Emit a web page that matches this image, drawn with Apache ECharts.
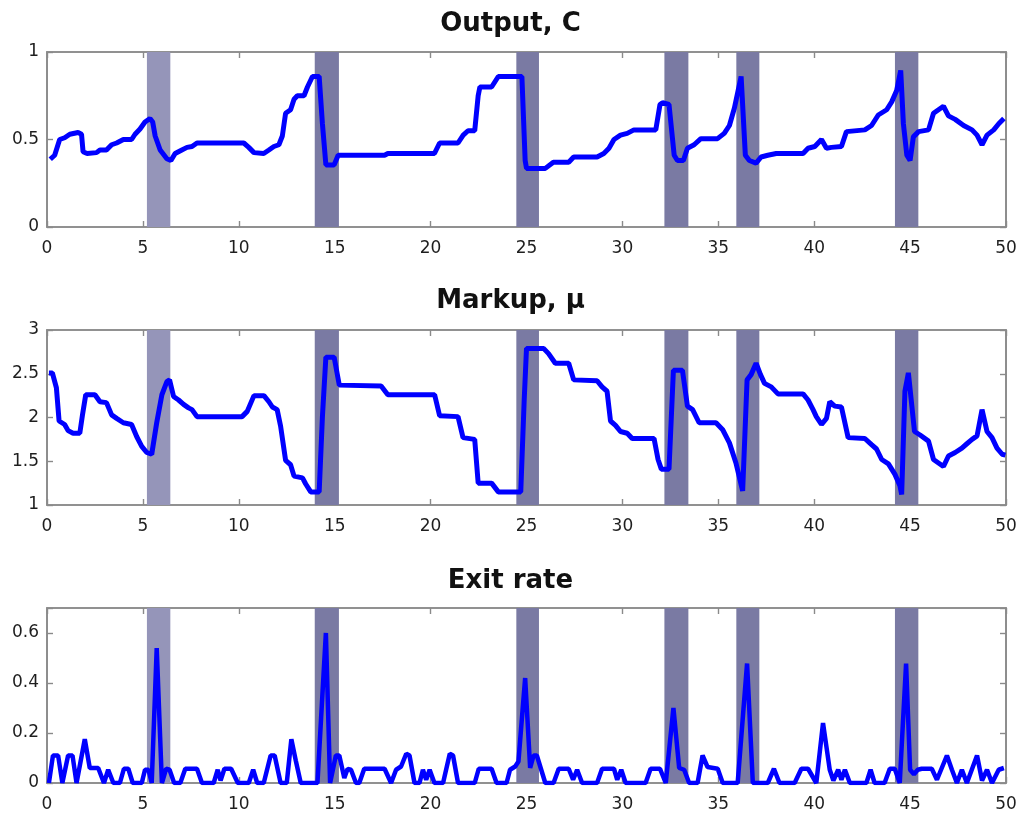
<!DOCTYPE html>
<html>
<head>
<meta charset="utf-8">
<script src="https://cdn.jsdelivr.net/npm/echarts@6/dist/echarts.min.js"></script>
<style>html,body{margin:0;padding:0;background:#fff;}#c{width:1021px;height:817px;}</style>
</head>
<body>
<div id="c"></div>
<script>
// ---- data ----
const titles = ['Output, C', 'Markup, \u03bc', 'Exit rate'];
const xTicks = [0, 5, 10, 15, 20, 25, 30, 35, 40, 45, 50];
const bands = [[5.21, 6.43], [13.96, 15.22], [24.47, 25.65], [32.19, 33.44], [35.94, 37.14], [44.21, 45.43]];

const output = [[0.17,0.387],[0.4,0.41],[0.66,0.50],[0.92,0.51],[1.19,0.53],[1.62,0.54],[1.8,0.53],[1.88,0.43],[2.09,0.42],[2.58,0.425],[2.76,0.44],[3.1,0.44],[3.37,0.47],[3.63,0.48],[3.98,0.50],[4.41,0.50],[4.59,0.53],[4.85,0.56],[5.11,0.60],[5.37,0.62],[5.51,0.60],[5.64,0.52],[5.9,0.44],[6.25,0.39],[6.46,0.38],[6.68,0.42],[7.03,0.44],[7.3,0.455],[7.56,0.46],[7.82,0.48],[10.26,0.48],[10.52,0.455],[10.79,0.425],[11.3,0.42],[11.57,0.44],[11.83,0.46],[12.09,0.47],[12.27,0.52],[12.44,0.65],[12.7,0.67],[12.88,0.73],[13.05,0.75],[13.4,0.75],[13.58,0.80],[13.84,0.86],[14.19,0.86],[14.36,0.59],[14.54,0.355],[14.97,0.355],[15.18,0.41],[17.6,0.41],[17.77,0.42],[20.2,0.42],[20.47,0.48],[21.43,0.48],[21.7,0.525],[21.95,0.55],[22.3,0.55],[22.48,0.75],[22.57,0.80],[23.18,0.80],[23.53,0.86],[24.76,0.86],[24.93,0.38],[25.0,0.335],[25.98,0.335],[26.4,0.37],[27.2,0.37],[27.46,0.40],[28.68,0.40],[29.03,0.42],[29.3,0.45],[29.56,0.50],[29.9,0.525],[30.25,0.535],[30.6,0.555],[31.74,0.555],[31.96,0.70],[32.09,0.71],[32.43,0.70],[32.7,0.41],[32.87,0.38],[33.18,0.38],[33.39,0.45],[33.74,0.47],[34.09,0.505],[34.96,0.505],[35.31,0.535],[35.58,0.58],[35.84,0.68],[36.19,0.86],[36.41,0.41],[36.62,0.38],[36.97,0.365],[37.23,0.40],[37.58,0.41],[38.02,0.42],[39.42,0.42],[39.68,0.45],[40.03,0.46],[40.38,0.50],[40.64,0.45],[40.9,0.455],[41.42,0.46],[41.68,0.545],[42.64,0.555],[42.99,0.58],[43.34,0.64],[43.78,0.67],[44.04,0.715],[44.3,0.78],[44.51,0.895],[44.65,0.59],[44.83,0.41],[45.0,0.38],[45.17,0.515],[45.44,0.545],[45.96,0.555],[46.22,0.65],[46.48,0.67],[46.74,0.69],[47.0,0.635],[47.35,0.615],[47.79,0.58],[48.23,0.555],[48.49,0.525],[48.75,0.47],[49.01,0.525],[49.36,0.555],[49.62,0.59],[49.89,0.62]];

const markup = [[0.1,2.51],[0.28,2.51],[0.49,2.34],[0.63,1.96],[0.92,1.92],[1.1,1.85],[1.36,1.82],[1.71,1.82],[1.85,2.03],[2.02,2.26],[2.5,2.26],[2.76,2.18],[3.1,2.17],[3.37,2.03],[3.63,1.99],[3.98,1.94],[4.41,1.92],[4.68,1.78],[4.94,1.67],[5.2,1.60],[5.46,1.58],[5.72,1.94],[5.99,2.26],[6.25,2.41],[6.39,2.43],[6.6,2.24],[6.86,2.20],[7.12,2.15],[7.38,2.11],[7.56,2.09],[7.82,2.01],[10.17,2.01],[10.44,2.07],[10.79,2.25],[11.31,2.25],[11.57,2.18],[11.75,2.12],[12.0,2.09],[12.18,1.90],[12.44,1.51],[12.7,1.46],[12.88,1.33],[13.32,1.31],[13.49,1.24],[13.75,1.15],[14.19,1.15],[14.36,2.01],[14.54,2.69],[14.97,2.69],[15.24,2.37],[17.42,2.36],[17.77,2.26],[20.21,2.26],[20.47,2.02],[21.43,2.01],[21.69,1.77],[22.3,1.75],[22.48,1.25],[23.18,1.25],[23.53,1.15],[24.7,1.15],[24.88,2.2],[25.0,2.79],[25.89,2.79],[26.15,2.73],[26.5,2.62],[27.2,2.62],[27.46,2.43],[28.68,2.42],[28.94,2.35],[29.2,2.30],[29.38,1.96],[29.64,1.91],[29.9,1.84],[30.25,1.82],[30.51,1.76],[31.65,1.76],[31.86,1.52],[32.03,1.41],[32.43,1.41],[32.66,2.54],[33.13,2.54],[33.39,2.13],[33.66,2.09],[34.0,1.94],[34.88,1.94],[35.23,1.86],[35.58,1.71],[35.92,1.48],[36.27,1.16],[36.5,2.43],[36.71,2.49],[36.97,2.62],[37.2,2.49],[37.41,2.39],[37.76,2.35],[38.11,2.27],[39.42,2.27],[39.68,2.20],[39.94,2.09],[40.11,2.01],[40.38,1.92],[40.64,1.99],[40.81,2.18],[41.07,2.13],[41.42,2.12],[41.77,1.77],[42.64,1.76],[42.99,1.69],[43.25,1.64],[43.52,1.52],[43.87,1.47],[44.21,1.35],[44.47,1.22],[44.56,1.12],[44.73,2.30],[44.91,2.51],[45.23,1.84],[45.52,1.80],[45.96,1.73],[46.22,1.52],[46.48,1.48],[46.74,1.44],[47.0,1.56],[47.35,1.60],[47.7,1.65],[47.96,1.70],[48.23,1.75],[48.49,1.79],[48.75,2.09],[49.01,1.84],[49.27,1.77],[49.53,1.65],[49.8,1.58],[49.97,1.57]];

const exitRate = [[0.1,0],[0.31,0.11],[0.58,0.11],[0.8,0],[1.1,0.11],[1.33,0.11],[1.54,0],[1.97,0.175],[2.23,0.06],[2.67,0.06],[2.76,0.053],[2.97,0],[3.19,0.053],[3.46,0],[3.8,0],[4.01,0.057],[4.24,0.057],[4.47,0],[4.94,0],[5.11,0.053],[5.29,0.053],[5.46,0],[5.72,0.54],[5.99,0],[6.21,0.057],[6.39,0.053],[6.63,0],[6.95,0],[7.21,0.057],[7.82,0.057],[8.08,0],[8.69,0],[8.9,0.053],[9.05,0.01],[9.25,0.057],[9.6,0.057],[9.95,0],[10.52,0],[10.75,0.053],[10.96,0],[11.3,0],[11.66,0.11],[11.87,0.11],[12.18,0],[12.5,0],[12.74,0.175],[12.97,0.09],[13.23,0],[14.1,0],[14.54,0.60],[14.76,0],[15.06,0.11],[15.24,0.11],[15.5,0.02],[15.67,0.056],[15.85,0.053],[16.11,0],[16.28,0],[16.54,0.057],[17.6,0.057],[17.94,0],[18.2,0.053],[18.46,0.066],[18.73,0.117],[18.9,0.11],[19.16,0],[19.42,0],[19.6,0.053],[19.77,0.013],[19.95,0.053],[20.2,0],[20.65,0],[21.0,0.117],[21.17,0.11],[21.43,0],[22.3,0],[22.51,0.057],[23.18,0.057],[23.44,0],[23.96,0],[24.14,0.053],[24.41,0.066],[24.58,0.086],[24.93,0.42],[25.19,0.06],[25.37,0.11],[25.54,0.11],[25.98,0],[26.41,0],[26.68,0.057],[27.2,0.057],[27.43,0.013],[27.64,0.053],[27.9,0],[28.68,0],[28.94,0.057],[29.56,0.057],[29.73,0.013],[29.94,0.053],[30.17,0],[31.21,0],[31.47,0.057],[31.96,0.057],[32.26,0],[32.66,0.30],[32.96,0.06],[33.22,0.053],[33.48,0],[33.92,0],[34.18,0.11],[34.44,0.064],[34.97,0.057],[35.23,0],[36.01,0],[36.5,0.478],[36.8,0],[37.58,0],[37.9,0.057],[38.19,0],[38.98,0],[39.33,0.057],[39.68,0.057],[40.11,0],[40.46,0.24],[40.81,0.053],[41.0,0.01],[41.25,0.053],[41.42,0.013],[41.6,0.053],[41.86,0],[42.72,0],[42.94,0.053],[43.15,0],[43.67,0],[43.94,0.057],[44.2,0.057],[44.46,0],[44.79,0.478],[45.0,0.053],[45.2,0.035],[45.4,0.053],[45.6,0.057],[46.13,0.057],[46.4,0.013],[46.92,0.11],[47.18,0.053],[47.44,0],[47.7,0.053],[47.96,0],[48.49,0.11],[48.75,0.01],[49.01,0.053],[49.27,0],[49.62,0.053],[49.89,0.06]];

const yRanges = [[0, 1, 0.5], [1, 3, 0.5], [0, 0.7, 0.2]];
const yLabelMax = [1, 3, 0.6];
const seriesData = [output, markup, exitRate];

// ---- layout / style ----
const gridTops = [52, 330, 608];
const gridH = 175;
const titleTops = [6, 283, 563];
const axisColor = '#8a8a8a';
const labelStyle = { color: '#1e1e1e', fontFamily: 'DejaVu Sans', fontSize: 17 };
const bandColors = ['#9595b9', '#7a7aa3', '#7a7aa3', '#7a7aa3', '#7a7aa3', '#7a7aa3'];

function buildOption(useFormatter) {
  const grids = [], xAxes = [], yAxes = [], series = [], titleOpts = [];
  for (let i = 0; i < 3; i++) {
    grids.push({ left: 47, right: 15, top: gridTops[i], height: gridH, show: true, borderColor: axisColor, borderWidth: 1.6, backgroundColor: 'transparent' });
    titleOpts.push({
      text: titles[i], left: 'center', top: titleTops[i],
      textStyle: { fontFamily: 'DejaVu Sans', fontWeight: 'bold', fontSize: 26, color: '#111' }
    });
    const tick = { show: true, inside: true, length: 6, lineStyle: { color: axisColor, width: 1.4 } };
    const line = { show: true, onZero: false, lineStyle: { color: axisColor, width: 1.6 } };
    const common = {
      type: 'value', gridIndex: i, min: xTicks[0], max: xTicks[xTicks.length - 1], interval: 5,
      splitLine: { show: false }, axisLine: line, axisTick: tick
    };
    xAxes.push(Object.assign({}, common, { position: 'bottom', axisLabel: Object.assign({ margin: 13 }, labelStyle) }));
    xAxes.push(Object.assign({}, common, { position: 'top', axisLabel: { show: false } }));
    const yr = yRanges[i];
    const ycommon = {
      type: 'value', gridIndex: i, min: yr[0], max: yr[1], interval: yr[2],
      splitLine: { show: false }, axisLine: line, axisTick: tick
    };
    const yl = Object.assign({ margin: 8 }, labelStyle);
    if (useFormatter) {
      const lim = yLabelMax[i];
      yl.formatter = function (v) { return v > lim + 1e-9 ? '' : String(Math.round(v * 100) / 100); };
    }
    yAxes.push(Object.assign({}, ycommon, { position: 'left', axisLabel: yl }));
    yAxes.push(Object.assign({}, ycommon, { position: 'right', axisLabel: { show: false } }));
    series.push({
      type: 'line', xAxisIndex: 2 * i, yAxisIndex: 2 * i,
      data: seriesData[i], showSymbol: false,
      lineStyle: { color: '#0000ff', width: i === 2 ? 4.5 : 5 },
      markArea: {
        silent: true,
        data: bands.map((b, k) => [{ xAxis: b[0], itemStyle: { color: bandColors[k] } }, { xAxis: b[1] }])
      }
    });
    // empty series so the mirrored (top/right) axes are laid out and drawn
    series.push({ type: 'line', xAxisIndex: 2 * i + 1, yAxisIndex: 2 * i + 1, data: [] });
  }
  return { animation: false, title: titleOpts, grid: grids, xAxis: xAxes, yAxis: yAxes, series: series };
}

const chart = echarts.init(document.getElementById('c'));
try {
  chart.setOption(buildOption(true));
} catch (e) {
  chart.clear();
  chart.setOption(buildOption(false), true);
}
</script>
</body>
</html>
